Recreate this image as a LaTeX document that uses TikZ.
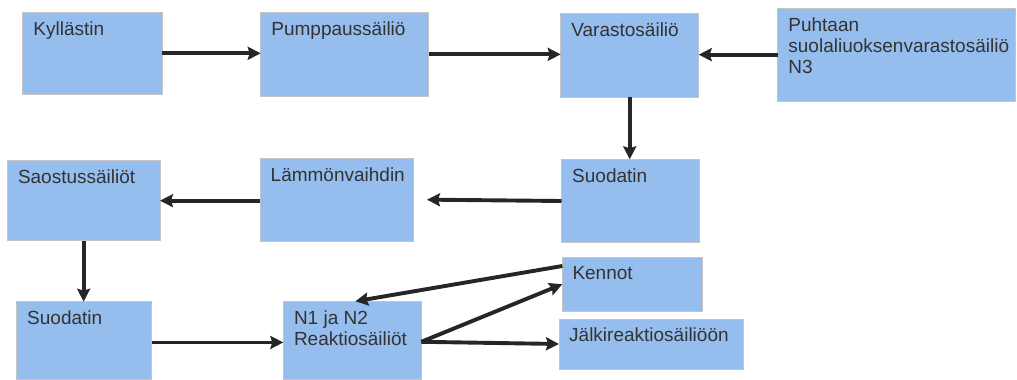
\documentclass[tikz,border=0pt]{standalone}
\usepackage{fontspec}
\setmainfont{Liberation Sans}
\usetikzlibrary{arrows.meta,calc}
\definecolor{boxblue}{RGB}{149,189,238}
\definecolor{boxedge}{RGB}{196,196,196}
\definecolor{ink}{RGB}{51,51,51}
\definecolor{flow}{RGB}{38,38,38}

\begin{document}
\begin{tikzpicture}[x=1pt,y=-1pt,
  tank/.style={draw=boxedge, line width=0.8pt, fill=boxblue, inner sep=0pt,
    outer sep=0pt, anchor=north west},
  caption/.style={anchor=north west, inner sep=0pt, text=ink, align=left,
    font=\fontsize{19}{21}\selectfont},
  flowarrow/.style={draw=flow, line width=3.9pt,
    -{Stealth[length=13pt,width=13pt,inset=2pt]}}]
\useasboundingbox[fill=white] (0,0) rectangle (1017,380);

% process units
\node[tank, minimum width=139.3, minimum height=82]   (kyl)  at (22.7,12.3)  {};
\node[tank, minimum width=168,   minimum height=83.3] (pump) at (260.7,12.7) {};
\node[tank, minimum width=138,   minimum height=84]   (var)  at (560.7,13.3) {};
\node[tank, minimum width=238,   minimum height=92.7] (puh)  at (777.7,8.3)  {};
\node[tank, minimum width=152.7, minimum height=80]   (sao)  at (7.3,160.7)  {};
\node[tank, minimum width=153,   minimum height=82.7] (lam)  at (260,158.3)  {};
\node[tank, minimum width=137.5, minimum height=83.4] (suo1) at (561.5,159.3) {};
\node[tank, minimum width=135,   minimum height=77.5] (suo2) at (16.5,301.7) {};
\node[tank, minimum width=138,   minimum height=78]   (n1)   at (283.3,301.3) {};
\node[tank, minimum width=140.5, minimum height=54.5] (ken)  at (562.3,257)  {};
\node[tank, minimum width=184,   minimum height=50]   (jal)  at (559,319)    {};

% unit names, set in the top left corner of each box
\node[caption] (tkyl)  at ($(kyl.north west)+(10.5,8.9)$)  {Kyllästin};
\node[caption] (tpump) at ($(pump.north west)+(10.5,8.9)$) {Pumppaussäiliö};
\node[caption] (tvar)  at ($(var.north west)+(10.5,8.9)$)  {Varastosäiliö};
\node[caption] (tpuh)  at ($(puh.north west)+(10.5,8.9)$)  {Puhtaan\\suolaliuoksenvarastosäiliö\\N3};
\node[caption] (tsao)  at ($(sao.north west)+(10.5,8.9)$)  {Saostussäiliöt};
\node[caption] (tlam)  at ($(lam.north west)+(10.5,8.9)$)  {Lämmönvaihdin};
\node[caption] (tsuo1) at ($(suo1.north west)+(10.5,8.9)$) {Suodatin};
\node[caption] (tsuo2) at ($(suo2.north west)+(10.5,8.9)$) {Suodatin};
\node[caption] (tn1)   at ($(n1.north west)+(10.5,8.9)$)   {N1 ja N2\\Reaktiosäiliöt};
\node[caption] (tken)  at ($(ken.north west)+(10,8.9)$)    {Kennot};
\node[caption] (tjal)  at ($(jal.north west)+(10,8.9)$)    {Jälkireaktiosäiliöön};

% flow connections
\coordinate (n1out) at ([yshift=-1.5pt]n1.east);
\draw[flowarrow] (kyl.east) -- (kyl.east -| pump.west);
\draw[flowarrow] (pump.east) -- (pump.east -| var.west);
\draw[flowarrow] (puh.west) -- (puh.west -| var.east);
\draw[flowarrow] (var.south) -- (var.south |- suo1.north);
\draw[flowarrow] (suo1.west) -- ($(lam.east)+(14,0)$);
\draw[flowarrow] ($(lam.west)+(0,1)$) -- ($(lam.west -| sao.east)+(0,1)$);
\draw[flowarrow] (sao.south) -- (sao.south |- suo2.north);
\draw[flowarrow] ([yshift=-2pt]suo2.east) -- ([yshift=-2pt]suo2.east -| n1.west);
\draw[flowarrow] (n1out) -- (ken.west);
\draw[flowarrow] (n1out) -- (jal.west);
\draw[flowarrow] ($(ken.north west)+(0,9)$) -- ($(n1.north)+(3,0)$);
\end{tikzpicture}
\end{document}
